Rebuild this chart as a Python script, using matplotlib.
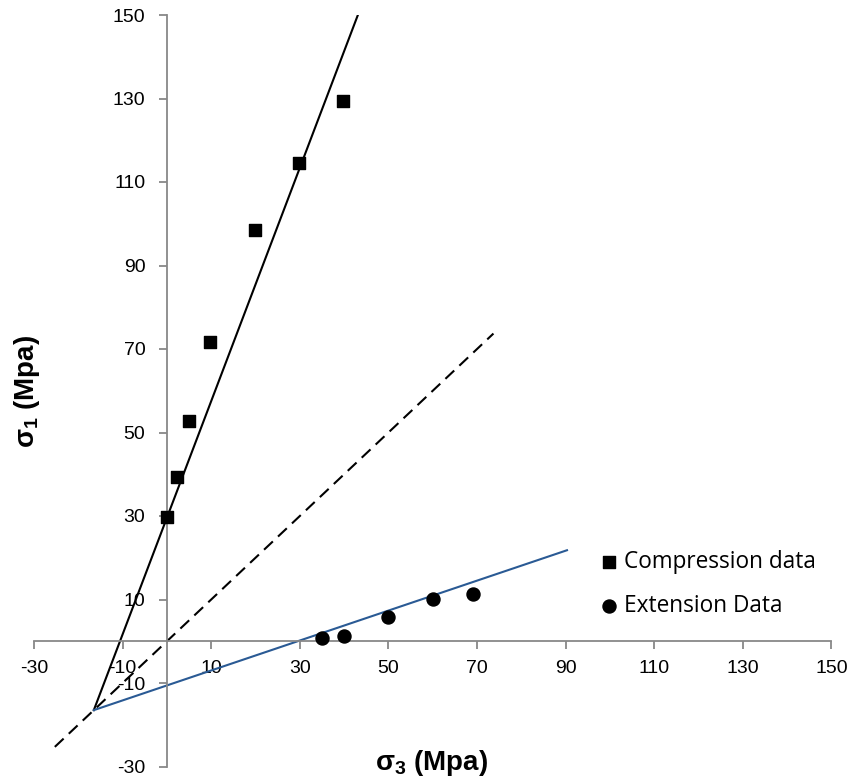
import matplotlib
matplotlib.use("Agg")
import matplotlib.pyplot as plt
import numpy as np

plt.rcParams['font.family'] = ['Liberation Sans', 'DejaVu Sans']
plt.rcParams['mathtext.fontset'] = 'custom'
plt.rcParams['mathtext.rm'] = 'Liberation Sans'
plt.rcParams['mathtext.bf'] = 'Liberation Sans:bold'
plt.rcParams['axes.unicode_minus'] = False

# Data
comp_s3 = [0, 2.3, 5, 9.7, 19.9, 29.8, 39.7]
comp_s1 = [29.8, 39.3, 52.8, 71.7, 98.5, 114.6, 129.5]
ext_s3 = [35, 40, 49.9, 60, 69]
ext_s1 = [0.8, 1.3, 5.9, 10.1, 11.4]

# Fitted envelope lines
comp_line_x = [-16.5, 43.1]
comp_line_y = [-16.5, 150]
ext_line_x = [-16.5, 90.3]
ext_line_y = [-16.5, 21.8]
iso_x = [-25.3, 73.7]
iso_y = [-25.3, 73.7]

ticks = [-30, -10, 10, 30, 50, 70, 90, 110, 130, 150]

fig = plt.figure(figsize=(8.53, 7.80), dpi=100)
ax = fig.add_axes([34/853, 1-766.5/780, (831.5-34)/853, (766.5-15)/780])
ax.set_xlim(-30, 150)
ax.set_ylim(-30, 150)

axis_col = '#888888'
for s in ['top', 'right']:
    ax.spines[s].set_visible(False)
ax.spines['left'].set_position(('data', 0))
ax.spines['bottom'].set_position(('data', 0))
ax.spines['left'].set_color(axis_col)
ax.spines['bottom'].set_color(axis_col)
ax.spines['left'].set_linewidth(1.3)
ax.spines['bottom'].set_linewidth(1.3)
ax.set_xticks(ticks)
ax.set_yticks(ticks)
ax.tick_params(direction='out', length=6, width=1.3, color=axis_col,
               labelsize=14, labelcolor='black')
ax.tick_params(axis='x', pad=7.5)
ax.tick_params(axis='y', pad=9.5)

ax.plot(iso_x, iso_y, color='black', lw=1.5, linestyle=(0, (5.8, 3.4)), zorder=2)
ax.plot(comp_line_x, comp_line_y, color='black', lw=1.5, zorder=2)
ax.plot(ext_line_x, ext_line_y, color='#2a5a94', lw=1.5, zorder=2)

ax.scatter(comp_s3, comp_s1, marker='s', s=80, color='black', zorder=3, label='Compression data')
ax.scatter(ext_s3, ext_s1, marker='o', s=88, color='black', zorder=3, label='Extension Data')

fig.text(432/853, 1-763/780, r'σ$_\mathbf{3}$ (Mpa)', fontsize=20, fontweight='bold',
         ha='center', va='center')
fig.text(27/853, 1-391/780, r'σ$_\mathbf{1}$ (Mpa)', fontsize=20, fontweight='bold',
         ha='center', va='center', rotation=90)

leg = ax.legend(loc='center left', bbox_to_anchor=(598/853, 1-584/780),
                bbox_transform=fig.transFigure, frameon=False,
                prop={'family': 'Open Sans', 'size': 16.3},
                handletextpad=0.15, labelspacing=0.85, markerscale=1.0,
                handlelength=1.0, borderaxespad=0, borderpad=0)

fig.savefig('out.png', dpi=100)
